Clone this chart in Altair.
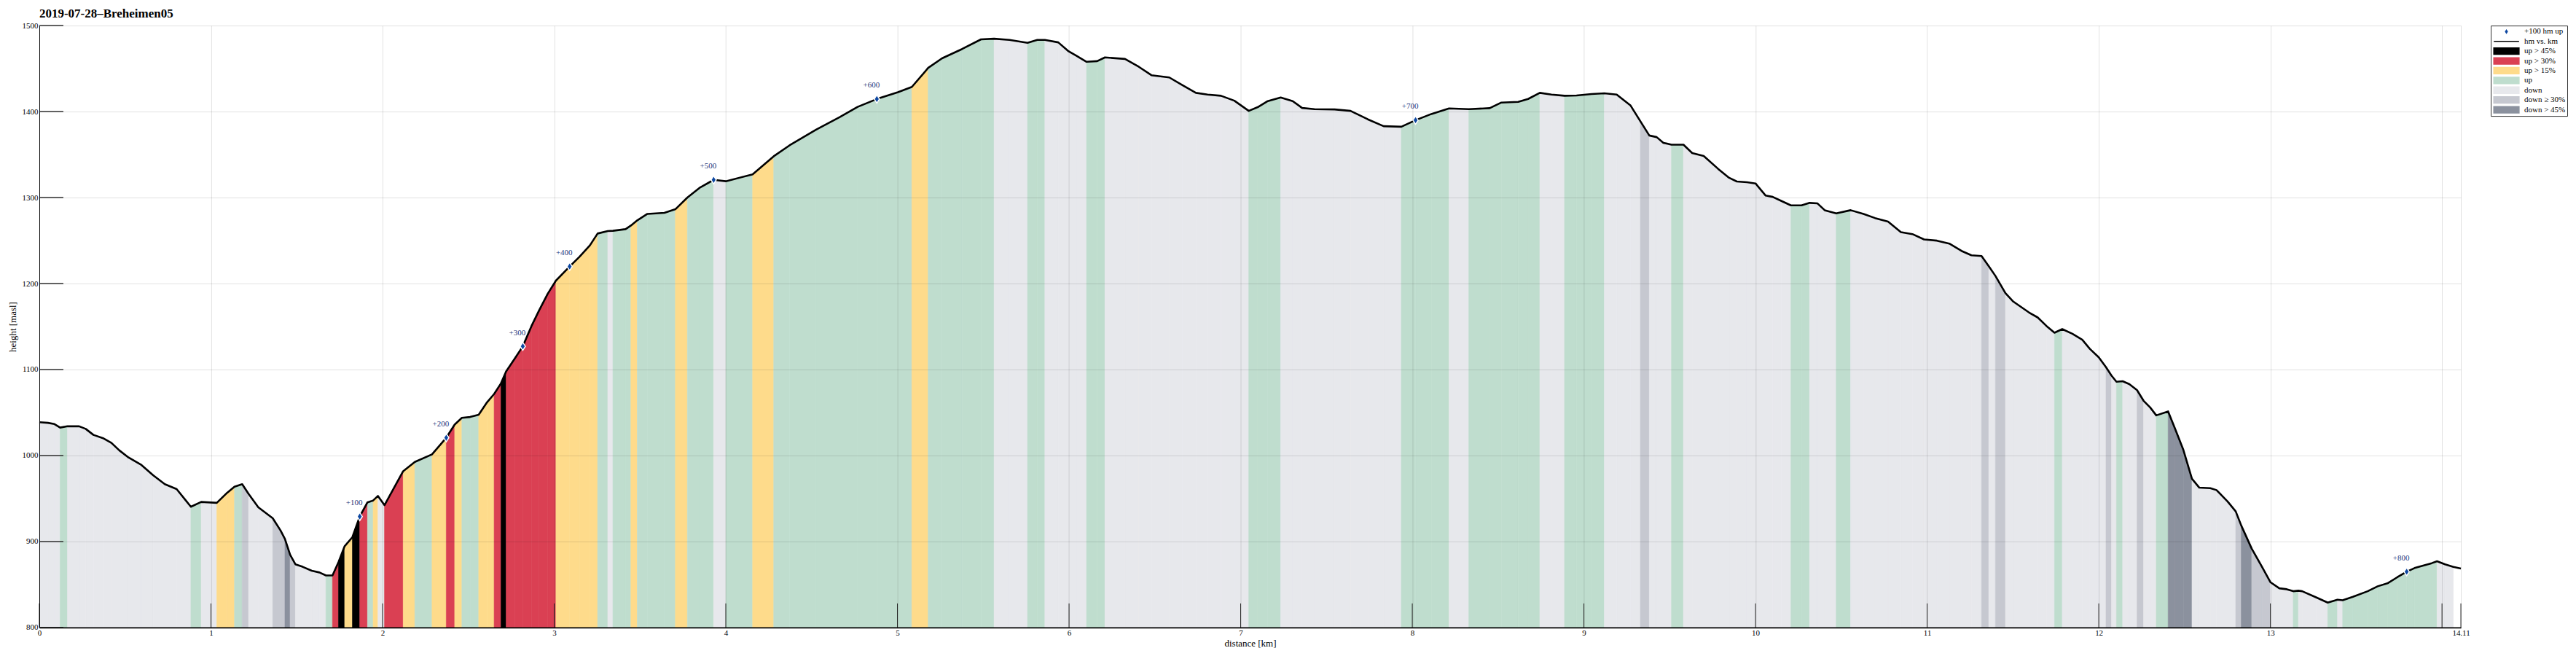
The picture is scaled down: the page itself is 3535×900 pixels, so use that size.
import altair as alt
import pandas as pd

TITLE = "2019-07-28–Breheimen05"

# profile: distance [km], height [masl]
KM = [0.000, 0.050, 0.088, 0.121, 0.164, 0.232, 0.270, 0.315, 0.375, 0.420,
      0.466, 0.520, 0.595, 0.663, 0.731, 0.800, 0.883, 0.943, 1.034, 1.095,
      1.137, 1.182, 1.219, 1.276, 1.360, 1.405, 1.431, 1.461, 1.492, 1.534,
      1.587, 1.632, 1.670, 1.708, 1.743, 1.779, 1.824, 1.867, 1.912, 1.945,
      1.973, 2.011, 2.120, 2.188, 2.288, 2.371, 2.420, 2.462, 2.510, 2.560,
      2.609, 2.650, 2.690, 2.720, 2.770, 2.817, 2.867, 2.912, 2.962, 3.010,
      3.090, 3.147, 3.208, 3.253, 3.312, 3.342, 3.416, 3.447, 3.484, 3.543,
      3.642, 3.706, 3.776, 3.847, 3.929, 4.000, 4.156, 4.279, 4.371, 4.526,
      4.662, 4.768, 4.880, 5.003, 5.084, 5.179, 5.260, 5.377, 5.487, 5.563,
      5.653, 5.758, 5.815, 5.859, 5.937, 5.994, 6.042, 6.102, 6.164, 6.209,
      6.326, 6.407, 6.480, 6.584, 6.661, 6.739, 6.807, 6.885, 6.963, 7.047,
      7.099, 7.158, 7.233, 7.303, 7.358, 7.430, 7.547, 7.640, 7.741, 7.833,
      7.936, 8.019, 8.111, 8.214, 8.329, 8.451, 8.519, 8.617, 8.675, 8.743,
      8.811, 8.887, 8.957, 9.045, 9.119, 9.191, 9.272, 9.329, 9.381, 9.424,
      9.463, 9.510, 9.580, 9.631, 9.698, 9.782, 9.846, 9.891, 9.950, 10.000,
      10.059, 10.100, 10.151, 10.206, 10.268, 10.315, 10.361, 10.403, 10.470, 10.554,
      10.629, 10.696, 10.772, 10.847, 10.914, 10.982, 11.057, 11.129, 11.200, 11.258,
      11.317, 11.359, 11.398, 11.456, 11.502, 11.594, 11.644, 11.695, 11.742, 11.787,
      11.846, 11.904, 11.948, 12.000, 12.042, 12.074, 12.103, 12.139, 12.178, 12.223,
      12.261, 12.299, 12.335, 12.404, 12.443, 12.493, 12.543, 12.586, 12.650, 12.686,
      12.751, 12.798, 12.830, 12.891, 12.951, 13.000, 13.052, 13.095, 13.133, 13.163,
      13.185, 13.266, 13.334, 13.391, 13.421, 13.481, 13.567, 13.625, 13.682, 13.739,
      13.794, 13.840, 13.940, 13.971, 14.018, 14.066, 14.110]

H = [1038.7, 1038.0, 1036.6, 1032.5, 1034.0, 1034.0, 1031.0, 1024.0, 1019.8, 1014.7,
     1006.0, 997.7, 989.0, 977.0, 966.7, 961.0, 940.4, 946.0, 945.0, 956.8,
     963.8, 966.7, 955.4, 939.8, 927.0, 913.0, 903.0, 884.7, 873.5, 870.6,
     866.0, 864.0, 860.5, 860.5, 876.0, 894.6, 905.0, 929.0, 945.5, 947.7,
     953.0, 942.3, 981.8, 992.5, 1001.3, 1020.7, 1036.0, 1043.8, 1044.8, 1047.5,
     1062.0, 1071.6, 1084.0, 1097.8, 1112.7, 1127.0, 1150.3, 1168.8, 1188.0, 1203.4,
     1219.8, 1231.0, 1244.4, 1258.2, 1261.0, 1261.4, 1263.3, 1267.5, 1273.5, 1281.0,
     1282.2, 1286.4, 1300.0, 1311.3, 1320.6, 1319.0, 1327.0, 1348.0, 1360.7, 1379.0,
     1393.4, 1405.5, 1414.6, 1422.5, 1428.7, 1450.8, 1462.0, 1472.8, 1484.0, 1484.7,
     1483.3, 1480.0, 1483.3, 1483.3, 1480.5, 1470.6, 1465.0, 1457.9, 1458.7, 1463.0,
     1461.2, 1452.0, 1442.3, 1439.7, 1430.6, 1421.8, 1419.8, 1418.4, 1412.7, 1400.8,
     1405.1, 1412.2, 1416.4, 1412.2, 1404.2, 1402.8, 1402.5, 1400.8, 1391.0, 1383.0,
     1382.4, 1390.0, 1397.2, 1403.7, 1402.8, 1404.0, 1410.5, 1411.3, 1414.7, 1421.8,
     1419.8, 1418.4, 1418.7, 1420.4, 1421.2, 1419.8, 1407.0, 1388.7, 1372.2, 1370.3,
     1363.7, 1361.5, 1361.5, 1351.8, 1348.4, 1333.4, 1323.0, 1318.7, 1317.8, 1316.4,
     1302.3, 1300.8, 1296.0, 1290.9, 1290.9, 1293.8, 1293.2, 1285.3, 1281.6, 1285.3,
     1281.0, 1276.2, 1272.0, 1259.8, 1257.5, 1251.3, 1249.9, 1246.5, 1238.0, 1232.9,
     1232.0, 1220.1, 1208.8, 1188.9, 1179.0, 1166.3, 1160.6, 1150.7, 1142.8, 1147.0,
     1141.6, 1134.6, 1124.0, 1114.2, 1102.8, 1093.0, 1085.8, 1086.4, 1083.0, 1076.0,
     1063.7, 1056.0, 1046.7, 1051.3, 1032.0, 1006.5, 973.0, 962.6, 962.0, 959.8,
     946.5, 935.0, 918.7, 891.8, 870.5, 852.7, 845.6, 844.5, 842.2, 842.8,
     842.2, 835.1, 828.9, 832.3, 831.7, 835.7, 842.2, 847.9, 851.3, 858.4,
     864.9, 869.1, 874.8, 877.0, 873.4, 870.5, 868.6]

# gradient class of the stretch starting at each point ("" = not filled)
CAT = ["D", "D", "D", "G", "D", "D", "D", "D", "D", "D",
       "D", "D", "D", "D", "D", "D", "G", "D", "Y", "Y",
       "G", "D30", "D", "D", "D30", "D30", "D45", "D30", "D", "D",
       "D", "D", "G", "R", "B", "Y", "B", "R", "G", "Y",
       "D", "R", "Y", "G", "Y", "R", "Y", "G", "G", "Y",
       "Y", "R", "B", "R", "R", "R", "R", "R", "R", "Y",
       "Y", "Y", "Y", "G", "D", "G", "G", "Y", "G", "G",
       "G", "Y", "G", "G", "D", "G", "Y", "G", "G", "G",
       "G", "G", "G", "G", "Y", "G", "G", "G", "G", "D",
       "D", "G", "G", "D", "D", "D", "D", "G", "G", "D",
       "D", "D", "D", "D", "D", "D", "D", "D", "D", "G",
       "G", "G", "D", "D", "D", "D", "D", "D", "D", "D",
       "G", "G", "G", "D", "G", "G", "G", "G", "G", "D",
       "D", "G", "G", "G", "D", "D", "D", "D30", "D", "D",
       "D", "G", "D", "D", "D", "D", "D", "D", "D", "D",
       "D", "D", "D", "G", "G", "D", "D", "D", "G", "D",
       "D", "D", "D", "D", "D", "D", "D", "D", "D", "D",
       "D30", "D", "D30", "D", "D", "D", "D", "D", "G", "D",
       "D", "D", "D", "D", "D30", "D", "G", "D", "D", "D30",
       "D", "D", "G", "D45", "D45", "D45", "D", "D", "D", "D",
       "D", "D30", "D45", "D30", "D30", "D", "D", "D", "G", "D",
       "D", "D", "G", "D", "G", "G", "G", "G", "G", "G",
       "G", "G", "G", "D", "D", ""]

CODE_NAME = {"B": "up > 45%", "R": "up > 30%", "Y": "up > 15%", "G": "up",
             "D": "down", "D30": "down ≥ 30%", "D45": "down > 45%"}

LEGEND_ITEMS = ["+100 hm up", "hm vs. km", "up > 45%", "up > 30%", "up > 15%",
                "up", "down", "down ≥ 30%", "down > 45%"]
FILL_COLORS = ["#0d47a1", "#000000", "#000000", "#da4053", "#fedb8b",
               "#bfddce", "#e7e8ec", "#c6c8d0", "#8b919e"]
EDGE_COLORS = ["#ffffff", "#000000", "#000000", "#da4053", "#fedb8b",
               "#bfddce", "#e7e8ec", "#c6c8d0", "#8b919e"]
DIAMOND = "M0,-0.85L0.55,0L0,0.85L-0.55,0Z"
BAR = "M-3.15,-0.8H3.15V0.8H-3.15Z"
STROKE = "M-3.15,0H3.15"
SHAPES = [DIAMOND, STROKE] + [BAR] * 7

# +100 hm markers
MARK_KM = [1.867, 2.371, 2.817, 3.090, 3.929, 4.880, 8.019, 13.794]
MARK_H = [929.0, 1020.7, 1127.0, 1219.8, 1320.6, 1414.6, 1390.0, 864.9]
MARK_LABEL = ["+100", "+200", "+300", "+400", "+500", "+600", "+700", "+800"]

X_TICKS = [0, 1, 2, 3, 4, 5, 6, 7, 8, 9, 10, 11, 12, 13, 14, 14.11]
Y_TICKS = [800, 900, 1000, 1100, 1200, 1300, 1400, 1500]

W, HGT = 3324, 826
FONT = "Liberation Serif"

profile = pd.DataFrame({"km": KM, "h": H, "i": list(range(len(KM)))})

rows = []
for i, c in enumerate(CAT):
    if not c:
        continue
    name = CODE_NAME[c]
    rows.append({"km": KM[i], "h": H[i], "cat": name, "seg": i})
    rows.append({"km": KM[i + 1], "h": H[i + 1], "cat": name, "seg": i})
areas = pd.DataFrame(rows)

marks = pd.DataFrame({"km": MARK_KM, "h": MARK_H, "label": MARK_LABEL,
                      "cat": [LEGEND_ITEMS[0]] * len(MARK_KM)})

xscale = alt.Scale(domain=[0, 14.11], nice=False, zero=False)
yscale = alt.Scale(domain=[800, 1500], nice=False, zero=False)
xaxis = alt.Axis(values=X_TICKS,
                 labelExpr="datum.value == 14 ? '' : toString(datum.value)",
                 title="distance [km]", ticks=False, grid=True,
                 gridColor="#000000", gridOpacity=0.12, gridWidth=1,
                 domainColor="#000000", domainWidth=1.6,
                 labelPadding=2, titlePadding=3, labelFlush=False,
                 labelOverlap=False, zindex=1)
yaxis = alt.Axis(values=Y_TICKS, format="d", title="height [masl]",
                 ticks=False, grid=True,
                 gridColor="#000000", gridOpacity=0.12, gridWidth=1,
                 domainColor="#000000", domainWidth=1,
                 labelPadding=2, titlePadding=5, labelOverlap=False, zindex=1)

X = alt.X("km:Q", scale=xscale, axis=xaxis)
Y = alt.Y("h:Q", scale=yscale, axis=yaxis)

cscale = alt.Scale(domain=LEGEND_ITEMS, range=FILL_COLORS)
sscale = alt.Scale(domain=LEGEND_ITEMS, range=EDGE_COLORS)
shscale = alt.Scale(domain=LEGEND_ITEMS, range=SHAPES)

leg = alt.Legend(title=None, orient="none", legendX=3365, legendY=0,
                 strokeColor="#333333", fillColor="#ffffff", padding=2,
                 cornerRadius=0, symbolSize=121, symbolStrokeWidth=1.5,
                 symbolOffset=13, labelOffset=18, rowPadding=0.4,
                 clipHeight=12.5,
                 labelFont=FONT, labelFontSize=11, labelColor="#000000",
                 symbolOpacity=1)

area_layer = alt.Chart(areas).mark_area(strokeWidth=0.6, opacity=1).encode(
    x=X, y=Y, y2=alt.Y2Datum(800),
    color=alt.Color("cat:N", scale=cscale, legend=None),
    stroke=alt.Stroke("cat:N", scale=sscale, legend=None),
    detail="seg:N",
)

xtick_layer = alt.Chart(pd.DataFrame({"km": X_TICKS})).mark_rule(
    color="#222222", strokeWidth=1).encode(
    x=X, y=alt.value(HGT - 33), y2=alt.value(HGT))

ytick_layer = alt.Chart(pd.DataFrame({"h": Y_TICKS})).mark_rule(
    color="#333333", strokeWidth=1.5).encode(
    y=Y, x=alt.value(0), x2=alt.value(33))

line_layer = alt.Chart(profile).mark_line(
    color="#000000", strokeWidth=2.6, strokeJoin="round").encode(
    x=X, y=Y, order="i:Q")

point_layer = alt.Chart(marks).mark_point(
    filled=True, size=170, opacity=1, strokeWidth=1.5).encode(
    x=X, y=Y,
    color=alt.Color("cat:N", scale=cscale, legend=leg),
    shape=alt.Shape("cat:N", scale=shscale, legend=leg),
    stroke=alt.Stroke("cat:N", scale=sscale, legend=leg),
)

text_layer = alt.Chart(marks).mark_text(
    dx=-7.5, dy=-18.5, font=FONT, fontSize=11, color="#22337a").encode(
    x=X, y=Y, text="label:N")

title_layer = alt.Chart(pd.DataFrame({"t": [TITLE]})).mark_text(
    align="left", baseline="alphabetic", font=FONT, fontSize=17,
    fontWeight="bold", color="#000000").encode(
    x=alt.value(0), y=alt.value(-11.5), text="t:N")

chart = alt.layer(
    area_layer, xtick_layer, ytick_layer, line_layer, point_layer,
    text_layer, title_layer
).resolve_scale(
    color="independent", stroke="independent", shape="independent"
).resolve_legend(
    color="independent", stroke="independent", shape="independent"
).properties(
    width=W, height=HGT,
    autosize=alt.AutoSizeParams(type="none"),
    padding={"left": 46, "top": 27, "right": 150, "bottom": 36},
).configure(font=FONT).configure_view(stroke=None).configure_axis(
    labelFont=FONT, titleFont=FONT, labelFontSize=11, titleFontSize=13,
    titleFontWeight="normal", labelColor="#000000", titleColor="#000000",
)

chart.save("out.html", embed_options={"renderer": "svg", "actions": False})
